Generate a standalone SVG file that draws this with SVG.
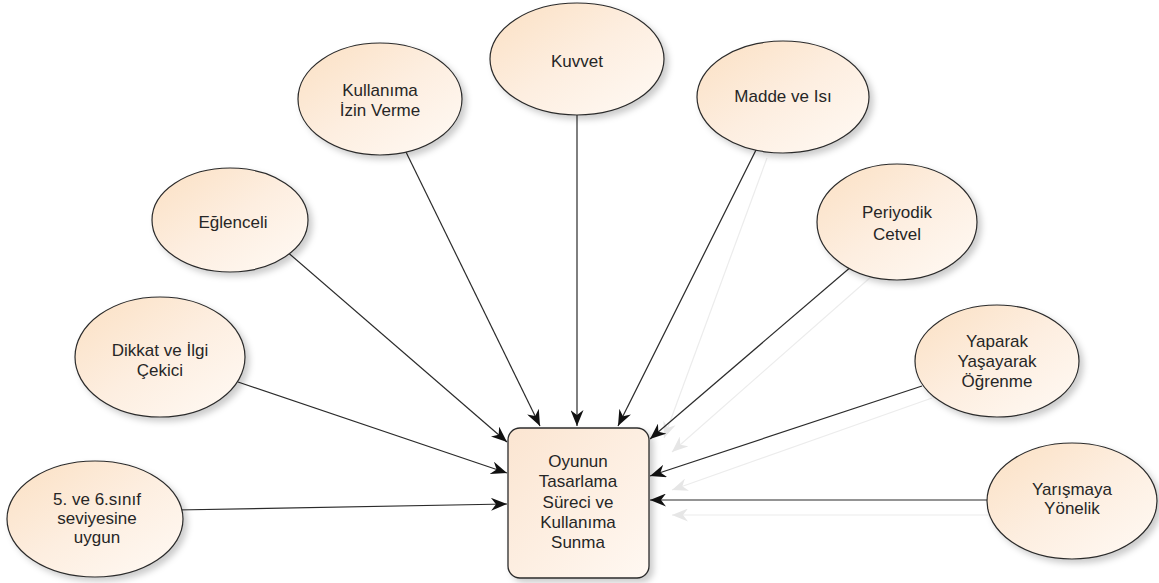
<svg xmlns="http://www.w3.org/2000/svg" width="1159" height="583" viewBox="0 0 1159 583">
<defs>
<linearGradient id="gE" x1="0" y1="0" x2="1" y2="1">
<stop offset="0" stop-color="#fbe0c3"/>
<stop offset="0.5" stop-color="#fdeee0"/>
<stop offset="1" stop-color="#fffaf5"/>
</linearGradient>
<linearGradient id="gB" x1="0" y1="0" x2="1" y2="1">
<stop offset="0" stop-color="#fbe5d1"/>
<stop offset="1" stop-color="#fff8f2"/>
</linearGradient>
<filter id="sh" x="-20%" y="-20%" width="150%" height="150%">
<feDropShadow dx="4" dy="4" stdDeviation="3" flood-color="#000" flood-opacity="0.2"/>
</filter>
<marker id="ar" viewBox="0 0 16 13" refX="16" refY="6.5" markerWidth="16" markerHeight="13" markerUnits="userSpaceOnUse" orient="auto">
<path d="M0,0 L16,6.5 L0,13 L5,6.5 Z" fill="#111"/>
</marker>
<marker id="arS" viewBox="0 0 16 13" refX="16" refY="6.5" markerWidth="16" markerHeight="13" markerUnits="userSpaceOnUse" orient="auto">
<path d="M0,0 L16,6.5 L0,13 L5,6.5 Z" fill="#e6e6e6"/>
</marker>
<style>
.n ellipse{fill:url(#gE);stroke:#2b2b2b;stroke-width:1.2;filter:url(#sh)}
.box{fill:url(#gB);stroke:#2b2b2b;stroke-width:1.3;filter:url(#sh)}
text{font-family:"Liberation Sans",Arial,sans-serif;font-size:17px;fill:#262626;text-anchor:middle}
.c line{stroke:#2b2b2b;stroke-width:1.2;marker-end:url(#ar)}
.s line{stroke:#ececec;stroke-width:1.2;marker-end:url(#arS)}
</style>
</defs>
<rect width="1159" height="583" fill="#fff"/>
<g id="shadow-connectors" class="s">
<line x1="767" y1="158" x2="664" y2="438"/>
<line x1="872" y1="276" x2="672" y2="452"/>
<line x1="932" y1="398" x2="672" y2="490"/>
<line x1="992" y1="515" x2="672" y2="515"/>
</g>
<g id="connectors" class="c">
<line x1="176" y1="510" x2="507" y2="504"/>
<line x1="238" y1="382" x2="507" y2="473"/>
<line x1="285" y1="250" x2="507" y2="442"/>
<line x1="405" y1="150" x2="540" y2="426"/>
<line x1="577" y1="110" x2="577" y2="426"/>
<line x1="757" y1="148" x2="618" y2="426"/>
<line x1="852" y1="266" x2="650" y2="439"/>
<line x1="922" y1="386" x2="650" y2="476"/>
<line x1="992" y1="500" x2="650" y2="500"/>
</g>
<g id="n-center">
<rect class="box" x="508" y="428" width="141" height="150" rx="12"/>
<text x="578" y="467">Oyunun</text>
<text x="578" y="487">Tasarlama</text>
<text x="578" y="508">Süreci ve</text>
<text x="578" y="528">Kullanıma</text>
<text x="578" y="548">Sunma</text>
</g>
<g id="n-sinif" class="n">
<ellipse cx="95" cy="519" rx="88" ry="58"/>
<text x="97" y="505">5. ve 6.sınıf</text>
<text x="97" y="524">seviyesine</text>
<text x="97" y="543">uygun</text>
</g>
<g id="n-dikkat" class="n">
<ellipse cx="160" cy="357" rx="85" ry="60"/>
<text x="160" y="356">Dikkat ve İlgi</text>
<text x="160" y="376">Çekici</text>
</g>
<g id="n-eglenceli" class="n">
<ellipse cx="230" cy="220" rx="78" ry="52"/>
<text x="233" y="228">Eğlenceli</text>
</g>
<g id="n-kullanima" class="n">
<ellipse cx="380" cy="99" rx="82" ry="56"/>
<text x="380" y="96">Kullanıma</text>
<text x="380" y="116">İzin Verme</text>
</g>
<g id="n-kuvvet" class="n">
<ellipse cx="577" cy="59" rx="87" ry="56"/>
<text x="577" y="67">Kuvvet</text>
</g>
<g id="n-madde" class="n">
<ellipse cx="783" cy="97" rx="86" ry="56"/>
<text x="783" y="102">Madde ve Isı</text>
</g>
<g id="n-periyodik" class="n">
<ellipse cx="897" cy="222" rx="80" ry="58"/>
<text x="897" y="218">Periyodik</text>
<text x="897" y="240">Cetvel</text>
</g>
<g id="n-yaparak" class="n">
<ellipse cx="997" cy="361" rx="82" ry="56"/>
<text x="997" y="347">Yaparak</text>
<text x="997" y="367">Yaşayarak</text>
<text x="997" y="387">Öğrenme</text>
</g>
<g id="n-yarisma" class="n">
<ellipse cx="1072" cy="501" rx="85" ry="58"/>
<text x="1072" y="495">Yarışmaya</text>
<text x="1072" y="514">Yönelik</text>
</g>
</svg>
